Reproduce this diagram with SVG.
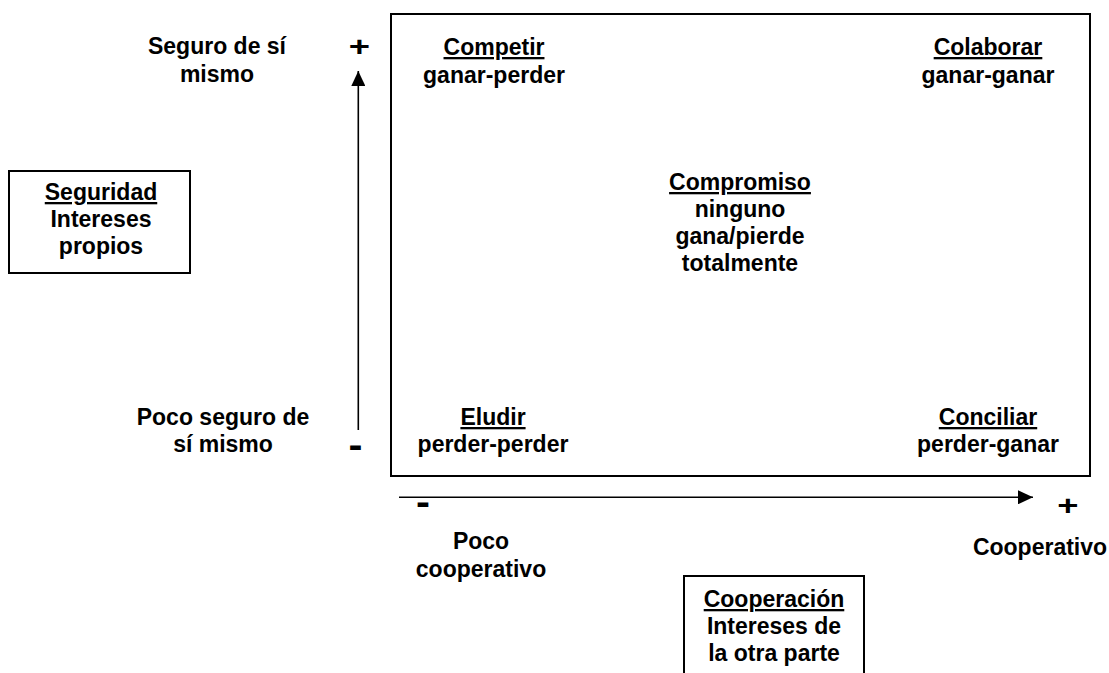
<svg xmlns="http://www.w3.org/2000/svg" width="1109" height="673" viewBox="0 0 1109 673">
<style>
text{font-family:"Liberation Sans",Arial,sans-serif;font-weight:bold;font-size:23px;fill:#000;text-anchor:middle}
.u{text-decoration:underline}
.box{fill:none;stroke:#000;stroke-width:2}
.axis{fill:none;stroke:#000;stroke-width:1.6}
.sign{font-size:28px}
</style>
<defs>
<marker id="ah" markerUnits="userSpaceOnUse" markerWidth="15" markerHeight="14" refX="15" refY="7" orient="auto">
<path d="M0,0 L15,7 L0,14 Z" fill="#000"/>
</marker>
</defs>
<rect width="1109" height="673" fill="#fff"/>

<g id="quadrant">
<rect class="box" x="391" y="14" width="699" height="462"/>
</g>

<g id="competir">
<text x="494" y="55" class="u">Competir</text>
<text x="494" y="83">ganar-perder</text>
</g>
<g id="colaborar">
<text x="988" y="55" class="u">Colaborar</text>
<text x="988" y="83">ganar-ganar</text>
</g>
<g id="compromiso">
<text x="740" y="190" class="u">Compromiso</text>
<text x="740" y="217">ninguno</text>
<text x="740" y="244">gana/pierde</text>
<text x="740" y="271">totalmente</text>
</g>
<g id="eludir">
<text x="493" y="425" class="u">Eludir</text>
<text x="493" y="452">perder-perder</text>
</g>
<g id="conciliar">
<text x="988" y="425" class="u">Conciliar</text>
<text x="988" y="452">perder-ganar</text>
</g>

<g id="seguro">
<text x="217" y="54">Seguro de sí</text>
<text x="217" y="82">mismo</text>
</g>
<g id="poco-seguro">
<text x="223" y="425">Poco seguro de</text>
<text x="223" y="452">sí mismo</text>
</g>
<g id="seguridad">
<rect class="box" x="9" y="171" width="181" height="102"/>
<text x="101" y="200" class="u">Seguridad</text>
<text x="101" y="227">Intereses</text>
<text x="101" y="254">propios</text>
</g>

<g id="poco-cooperativo">
<text x="481" y="549">Poco</text>
<text x="481" y="577">cooperativo</text>
</g>
<g id="cooperativo">
<text x="1040" y="555">Cooperativo</text>
</g>
<g id="cooperacion">
<path class="box" d="M684,674 V576 H864 V674"/>
<text x="774" y="607" class="u">Cooperación</text>
<text x="774" y="634">Intereses de</text>
<text x="774" y="661">la otra parte</text>
</g>

<g id="signs">
<text class="sign" transform="translate(359.5,56) scale(1.3,1)">+</text>
<text class="sign" transform="translate(1068,515) scale(1.3,1)">+</text>
<text class="sign" transform="translate(355.5,457) scale(1.5,1.35)">-</text>
<text class="sign" transform="translate(423,514) scale(1.5,1.35)">-</text>
</g>

<g id="connectors">
<line class="axis" x1="358.3" y1="430" x2="358.3" y2="71" marker-end="url(#ah)"/>
<line class="axis" x1="399" y1="497.3" x2="1033" y2="497.3" marker-end="url(#ah)"/>
</g>
</svg>
